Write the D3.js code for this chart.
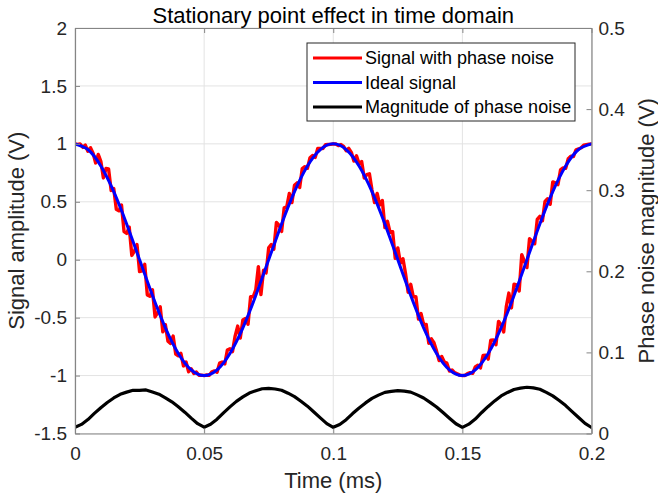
<!DOCTYPE html>
<html>
<head>
<meta charset="utf-8">
<script src="https://cdn.jsdelivr.net/npm/d3@7/dist/d3.min.js"></script>
<style>
  html, body { margin: 0; padding: 0; background: #fff; }
  svg { display: block; font-family: "Liberation Sans", Arial, sans-serif; }
</style>
</head>
<body>
<svg id="chart" width="658" height="500"></svg>
<script>
// ---- data -------------------------------------------------------------
const xTicks = [0, 0.05, 0.1, 0.15, 0.2];
const yLeftTicks = [-1.5, -1, -0.5, 0, 0.5, 1, 1.5, 2];
const yRightTicks = [0, 0.1, 0.2, 0.3, 0.4, 0.5];

// signal with phase noise, sampled every 0.001 ms from 0 to 0.2 ms
const noisyStep = 0.001;
const noisySignal = [
  1, 0.996, 0.999, 0.970, 0.989, 0.936, 0.967, 0.920, 0.835, 0.909,
  0.850, 0.706, 0.787, 0.784, 0.598, 0.615, 0.436, 0.422, 0.472, 0.242,
  0.227, 0.281, 0.037, 0.074, 0.131, -0.102, -0.097, -0.040, -0.304, -0.315,
  -0.260, -0.494, -0.457, -0.407, -0.623, -0.561, -0.703, -0.722, -0.659, -0.814,
  -0.829, -0.808, -0.917, -0.883, -0.967, -0.941, -0.981, -0.970, -0.997, -0.996,
  -1, -0.995, -0.997, -0.967, -0.960, -0.971, -0.893, -0.883, -0.900, -0.779,
  -0.768, -0.793, -0.659, -0.573, -0.676, -0.520, -0.507, -0.557, -0.319, -0.320,
  -0.260, -0.060, -0.300, -0.091, -0.114, 0.102, 0.131, 0.091, 0.321, 0.298,
  0.244, 0.448, 0.457, 0.572, 0.493, 0.642, 0.663, 0.624, 0.787, 0.803,
  0.789, 0.880, 0.900, 0.883, 0.961, 0.961, 0.960, 0.992, 0.994, 0.996,
  1, 0.999, 0.985, 0.994, 0.978, 0.941, 0.961, 0.927, 0.852, 0.898,
  0.829, 0.848, 0.705, 0.734, 0.742, 0.602, 0.493, 0.572, 0.472, 0.511,
  0.277, 0.331, 0.236, 0.242, 0.012, 0.102, -0.029, 0.009, -0.121, -0.281,
  -0.212, -0.320, -0.319, -0.513, -0.465, -0.561, -0.559, -0.722, -0.683, -0.717,
  -0.789, -0.871, -0.835, -0.883, -0.893, -0.961, -0.952, -0.975, -0.985, -0.996,
  -1, -0.999, -0.983, -0.975, -0.981, -0.925, -0.911, -0.934, -0.827, -0.825,
  -0.858, -0.694, -0.693, -0.734, -0.532, -0.561, -0.623, -0.407, -0.288, -0.416,
  -0.212, -0.217, -0.270, 0.043, -0.012, -0.068, 0.182, 0.159, 0.138, 0.348,
  0.374, 0.336, 0.503, 0.526, 0.478, 0.671, 0.663, 0.648, 0.775, 0.793,
  0.789, 0.871, 0.893, 0.890, 0.949, 0.956, 0.966, 0.989, 0.994, 0.998,
  1
];

// ideal signal, sampled every 0.005 ms
const idealStep = 0.005;
const idealSignal = [
  1, 0.951, 0.809, 0.588, 0.309, 0, -0.309, -0.588, -0.809, -0.951,
  -1, -0.951, -0.809, -0.588, -0.309, 0, 0.309, 0.588, 0.809, 0.951,
  1, 0.951, 0.809, 0.588, 0.309, 0, -0.309, -0.588, -0.809, -0.951,
  -1, -0.951, -0.809, -0.588, -0.309, 0, 0.309, 0.588, 0.809, 0.951,
  1
];

// magnitude of phase noise (right axis), sampled every 0.0025 ms
const magStep = 0.0025;
const phaseNoiseMag = [
  0.0076, 0.0112, 0.0172, 0.0248, 0.0318, 0.0382, 0.0438, 0.0483, 0.0510, 0.0533,
  0.0531, 0.0537, 0.0512, 0.0485, 0.0440, 0.0391, 0.0329, 0.0263, 0.0190, 0.0121,
  0.0078, 0.0114, 0.0176, 0.0255, 0.0328, 0.0396, 0.0451, 0.0499, 0.0528, 0.0552,
  0.0557, 0.0549, 0.0533, 0.0497, 0.0455, 0.0398, 0.0337, 0.0265, 0.0193, 0.0122,
  0.0076, 0.0111, 0.0170, 0.0246, 0.0315, 0.0377, 0.0433, 0.0473, 0.0507, 0.0519,
  0.0528, 0.0522, 0.0510, 0.0476, 0.0438, 0.0384, 0.0327, 0.0258, 0.0188, 0.0120,
  0.0076, 0.0115, 0.0178, 0.0259, 0.0334, 0.0402, 0.0463, 0.0506, 0.0543, 0.0559,
  0.0570, 0.0562, 0.0545, 0.0507, 0.0464, 0.0406, 0.0344, 0.0270, 0.0198, 0.0124,
  0.0074
];

const seriesNames = ["Signal with phase noise", "Ideal signal", "Magnitude of phase noise"];
const seriesColors = ["#ff0000", "#0000ff", "#000000"];

// ---- layout ----------------------------------------------------------
const W = 658, H = 500;
const plot = { left: 75, right: 591.5, top: 28, bottom: 433.5 };
const svg = d3.select("#chart");
svg.append("rect").attr("width", W).attr("height", H).attr("fill", "#fff");

const x = d3.scaleLinear().domain([0, 0.2]).range([plot.left, plot.right]);
const yL = d3.scaleLinear().domain([-1.5, 2]).range([plot.bottom, plot.top]);
const yR = d3.scaleLinear().domain([0, 0.5]).range([plot.bottom, plot.top]);

const axisColor = "#858585";
const textColor = "#262626";
const fmt = d => String(+d.toFixed(3));

// grid
const grid = svg.append("g").attr("stroke", "#e3e3e3").attr("stroke-width", 1);
xTicks.forEach(t => grid.append("line")
  .attr("x1", x(t)).attr("x2", x(t)).attr("y1", plot.top).attr("y2", plot.bottom));
yLeftTicks.forEach(t => grid.append("line")
  .attr("x1", plot.left).attr("x2", plot.right).attr("y1", yL(t)).attr("y2", yL(t)));

// series
svg.append("clipPath").attr("id", "plotclip").append("rect")
  .attr("x", plot.left).attr("y", plot.top - 2)
  .attr("width", plot.right - plot.left).attr("height", plot.bottom - plot.top + 2);
const lines = svg.append("g").attr("clip-path", "url(#plotclip)")
  .attr("fill", "none").attr("stroke-linejoin", "round").attr("stroke-linecap", "round");

const magLine = d3.line().x((d, i) => x(i * magStep)).y(d => yR(d));
lines.append("path").datum(phaseNoiseMag).attr("d", magLine)
  .attr("stroke", seriesColors[2]).attr("stroke-width", 3.2);

const noisyLine = d3.line().x((d, i) => x(i * noisyStep)).y(d => yL(d));
lines.append("path").datum(noisySignal).attr("d", noisyLine)
  .attr("stroke", seriesColors[0]).attr("stroke-width", 3.4);

const idealLine = d3.line().x((d, i) => x(i * idealStep)).y(d => yL(d)).curve(d3.curveNatural);
lines.append("path").datum(idealSignal).attr("d", idealLine)
  .attr("stroke", seriesColors[1]).attr("stroke-width", 3);

// axes (ticks point inward)
function styleAxis(g) {
  g.select(".domain").attr("stroke", axisColor).attr("stroke-width", 1.2);
  g.selectAll(".tick line").attr("stroke", axisColor).attr("stroke-width", 1);
  g.selectAll(".tick text").attr("fill", textColor)
    .attr("font-size", "19px").attr("font-family", "'Liberation Sans', Arial, sans-serif");
}

svg.append("g").attr("transform", `translate(0,${plot.bottom})`)
  .call(d3.axisBottom(x).tickValues(xTicks).tickFormat(fmt).tickSizeInner(-5).tickSizeOuter(0).tickPadding(13))
  .call(styleAxis);
svg.append("g").attr("transform", `translate(0,${plot.top})`)
  .call(d3.axisTop(x).tickValues(xTicks).tickFormat("").tickSizeInner(-5).tickSizeOuter(0))
  .call(styleAxis);
svg.append("g").attr("transform", `translate(${plot.left},0)`)
  .call(d3.axisLeft(yL).tickValues(yLeftTicks).tickFormat(fmt).tickSizeInner(-5).tickSizeOuter(0).tickPadding(8))
  .call(styleAxis);
svg.append("g").attr("transform", `translate(${plot.right},0)`)
  .call(d3.axisRight(yR).tickValues(yRightTicks).tickFormat(fmt).tickSizeInner(-5).tickSizeOuter(0).tickPadding(7))
  .call(styleAxis);

// titles
svg.append("text").attr("x", (plot.left + plot.right) / 2).attr("y", 22.5)
  .attr("text-anchor", "middle").attr("font-size", "22px").attr("fill", "#000")
  .text("Stationary point effect in time domain");
svg.append("text").attr("x", (plot.left + plot.right) / 2).attr("y", 488)
  .attr("text-anchor", "middle").attr("font-size", "22px").attr("fill", textColor)
  .text("Time (ms)");
svg.append("text")
  .attr("transform", `translate(24,${(plot.top + plot.bottom) / 2}) rotate(-90)`)
  .attr("text-anchor", "middle").attr("font-size", "22px").attr("fill", textColor)
  .text("Signal amplitude (V)");
svg.append("text")
  .attr("transform", `translate(654,${(plot.top + plot.bottom) / 2}) rotate(-90)`)
  .attr("text-anchor", "middle").attr("font-size", "22px").attr("fill", textColor)
  .text("Phase noise magnitude (V)");

// legend
const legend = svg.append("g").attr("transform", "translate(307,43)");
legend.append("rect").attr("width", 268).attr("height", 78)
  .attr("fill", "#fff").attr("stroke", "#262626").attr("stroke-width", 1);
seriesNames.forEach((name, i) => {
  const cy = 15 + i * 24.5;
  legend.append("line").attr("x1", 6).attr("x2", 55).attr("y1", cy).attr("y2", cy)
    .attr("stroke", seriesColors[i]).attr("stroke-width", 3);
  legend.append("text").attr("x", 58).attr("y", cy).attr("dy", "0.35em")
    .attr("font-size", "18px").attr("fill", "#000").text(name);
});
</script>
</body>
</html>
